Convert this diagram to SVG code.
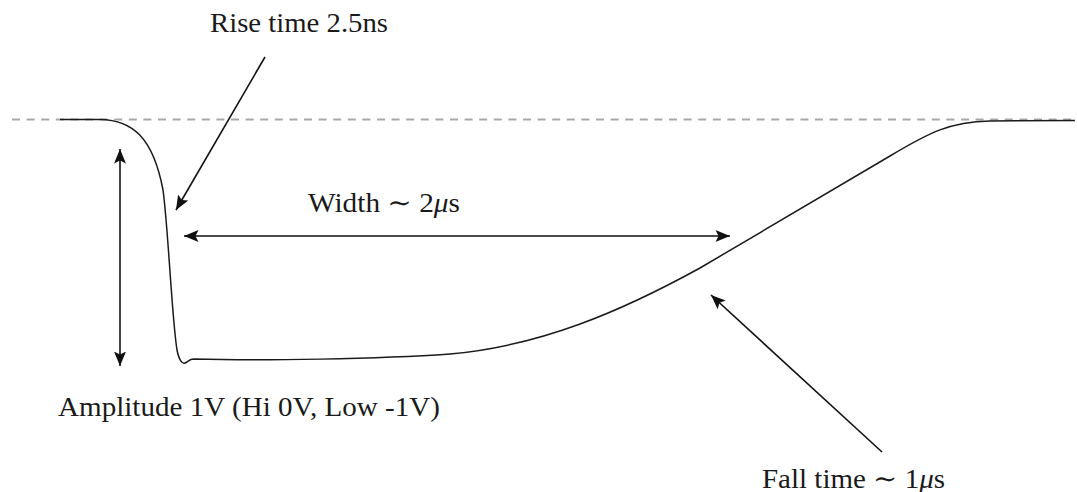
<svg xmlns="http://www.w3.org/2000/svg" width="1077" height="492" viewBox="0 0 1077 492">
  <style>
    .lbl { font-family: "Liberation Serif", "DejaVu Serif", serif; font-size: 27px; fill: #1a1a1a; }
    .arr { fill: none; stroke: #111; stroke-width: 1.6; }
    .wave { fill: none; stroke: #1a1a1a; stroke-width: 1.5; stroke-linejoin: round; }
    .base { fill: none; stroke: #a8a8a8; stroke-width: 2; stroke-dasharray: 8 6.6; }
  </style>
  <defs>
    <marker id="ah" markerUnits="userSpaceOnUse" markerWidth="16" markerHeight="14" refX="14.5" refY="6.5" orient="auto-start-reverse">
      <path d="M0,0.5 L14.5,6.5 L0,12.5 L3,6.5 Z" fill="#111"/>
    </marker>
  </defs>
  <rect width="1077" height="492" fill="#fff"/>

  <g id="baseline">
    <line class="base" x1="12" y1="119.5" x2="1076" y2="119.5"/>
  </g>

  <g id="waveform">
    <path class="wave" d="M60 119.5 L100 119.5 C132 120, 153 137, 163 190 C168 225, 172 320, 177 350 C179 360, 182 364, 185 363 C188 362, 189 359, 194 359 C260 361, 380 359, 450 354 C540 346, 620 312, 700 268 L890 156 C930 132, 950 122, 990 121 L1075 120.5"/>
  </g>

  <g id="connectors">
    <line id="amp-arrow" class="arr" x1="120" y1="149" x2="120" y2="366" marker-start="url(#ah)" marker-end="url(#ah)"/>
    <line id="width-arrow" class="arr" x1="184" y1="236" x2="730" y2="236" marker-start="url(#ah)" marker-end="url(#ah)"/>
    <line id="rise-arrow" class="arr" x1="265" y1="57" x2="176" y2="210" marker-end="url(#ah)"/>
    <line id="fall-arrow" class="arr" x1="882" y1="452" x2="711" y2="295" marker-end="url(#ah)"/>
  </g>

  <g id="label-rise">
    <text class="lbl" x="210" y="32" textLength="178" lengthAdjust="spacingAndGlyphs">Rise time 2.5ns</text>
  </g>
  <g id="label-width">
    <text class="lbl" x="308" y="212" textLength="152" lengthAdjust="spacingAndGlyphs">Width ∼ 2<tspan font-style="italic">μ</tspan>s</text>
  </g>
  <g id="label-amplitude">
    <text class="lbl" x="58" y="416" textLength="382" lengthAdjust="spacingAndGlyphs">Amplitude 1V (Hi 0V, Low -1V)</text>
  </g>
  <g id="label-fall">
    <text class="lbl" x="762" y="488" textLength="183" lengthAdjust="spacingAndGlyphs">Fall time ∼ 1<tspan font-style="italic">μ</tspan>s</text>
  </g>
</svg>
